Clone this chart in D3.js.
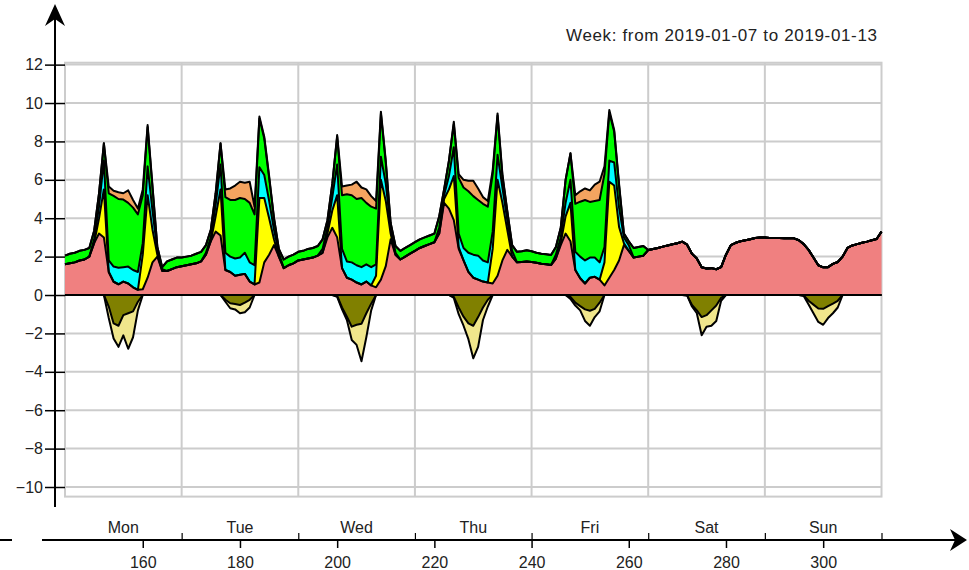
<!DOCTYPE html>
<html>
<head>
<meta charset="utf-8">
<title>Week 2019-01-07 to 2019-01-13</title>
<script src="https://cdn.jsdelivr.net/npm/d3@7"></script>
<style>
  body { margin: 0; background: #fff; }
  svg text { font-family: "Liberation Sans", Arial, sans-serif; font-size: 16px; fill: #222; }
</style>
</head>
<body>
<script>
// Hours of the year shown (one value per hour)
var firstHour = 144;
var lastHour = 312;

var title = "Week: from 2019-01-07 to 2019-01-13";
var dayNames = ["Mon", "Tue", "Wed", "Thu", "Fri", "Sat", "Sun"];
var dayMiddles = [156, 180, 204, 228, 252, 276, 300];
var dayBreaks = [168, 192, 216, 240, 264, 288, 312];
var xTicks = [160, 180, 200, 220, 240, 260, 280, 300];
var yTicks = [-10, -8, -6, -4, -2, 0, 2, 4, 6, 8, 10, 12];

// Stacked upwards, one row per day (24 hours), last value is hour 312
var pink = [
  1.6, 1.65, 1.7, 1.8, 1.85, 2.0, 2.7, 3.2, 3.0, 1.2, 0.69, 0.56, 0.7, 0.6, 0.4, 0.27, 0.3, 0.9, 1.7, 2.0, 1.25, 1.25, 1.35, 1.45,
  1.5, 1.55, 1.6, 1.65, 1.75, 2.1, 2.8, 3.3, 3.1, 1.3, 1.2, 1.0, 1.05, 1.1, 0.7, 0.55, 0.65, 1.7, 2.1, 2.6, 2.0, 1.4, 1.55, 1.65,
  1.8, 1.85, 1.9, 1.95, 2.05, 2.2, 3.0, 3.5, 3.0, 1.4, 0.9, 0.8, 0.65, 0.55, 0.7, 0.5, 0.4, 0.8, 1.5, 2.9, 2.1, 1.85, 2.0, 2.15,
  2.3, 2.45, 2.55, 2.65, 2.75, 3.2, 4.8, 4.5, 3.9, 2.4, 1.8, 1.2, 0.9, 0.8, 0.7, 0.65, 0.6, 1.0, 1.8, 2.35, 2.0, 1.7, 1.72, 1.74,
  1.72, 1.68, 1.63, 1.6, 1.56, 1.9, 2.6, 3.2, 2.8, 1.3, 0.87, 0.6, 0.9, 0.95, 0.8, 0.5, 0.9, 1.3, 1.8, 2.6, 2.3, 1.95, 2.0, 2.05,
  2.34, 2.4, 2.45, 2.52, 2.58, 2.64, 2.7, 2.78, 2.62, 2.15, 1.9, 1.45, 1.38, 1.4, 1.34, 1.45, 2.1, 2.6, 2.72, 2.8, 2.85, 2.9, 2.97, 3.0,
  3.0, 2.97, 2.97, 2.97, 2.96, 2.96, 2.95, 2.85, 2.65, 2.35, 1.95, 1.55, 1.44, 1.45, 1.62, 1.72, 2.0, 2.45, 2.58, 2.65, 2.72, 2.78, 2.85, 2.92,
  3.3
];
var yellow = [
  0, 0, 0, 0, 0, 0, 0, 0.8, 2.5, 0, 0, 0, 0, 0, 0, 0, 1.8, 4.3, 1.7, 0.1, 0, 0, 0, 0,
  0, 0, 0, 0, 0, 0, 0, 0.8, 2.4, 0, 0, 0, 0, 0, 0, 0, 4.4, 3.35, 1.9, 0.3, 0, 0, 0, 0,
  0, 0, 0, 0, 0, 0, 0.2, 0.9, 2.2, 0, 0, 0, 0, 0, 0, 0, 0.6, 5.2, 3.4, 0.3, 0, 0, 0, 0,
  0, 0, 0, 0, 0, 0, 0.2, 1.0, 2.3, 0.1, 0, 0, 0, 0, 0, 0, 1.8, 5.0, 3.0, 1.05, 0, 0, 0, 0,
  0, 0, 0, 0, 0, 0, 0.1, 0.9, 2.0, 0, 0, 0, 0, 0, 0, 1.2, 5.0, 4.4, 1.75, 0.1, 0, 0, 0, 0,
  0, 0, 0, 0, 0, 0, 0, 0, 0, 0, 0, 0, 0, 0, 0, 0, 0, 0, 0, 0, 0, 0, 0, 0,
  0, 0, 0, 0, 0, 0, 0, 0, 0, 0, 0, 0, 0, 0, 0, 0, 0, 0, 0, 0, 0, 0, 0, 0,
  0
];
var cyan = [
  0, 0, 0, 0, 0, 0, 0.2, 0.6, 1.5, 0.6, 0.79, 0.86, 0.75, 0.88, 0.9, 0.93, 0.6, 1.5, 1.0, 0.2, 0.1, 0, 0, 0,
  0, 0, 0, 0, 0, 0.1, 0.2, 0.6, 1.3, 0.9, 0.8, 0.9, 0.9, 1.1, 1.0, 1.0, 1.6, 1.2, 0.9, 0.5, 0.2, 0, 0, 0,
  0, 0, 0, 0, 0, 0.2, 0.3, 0.7, 1.6, 1.0, 0.85, 0.9, 0.9, 0.9, 0.9, 0.95, 0.6, 1.2, 0.9, 0.3, 0.1, 0, 0, 0,
  0, 0, 0, 0, 0, 0.3, 0.2, 0.7, 1.5, 0.7, 0.65, 1.0, 1.2, 1.25, 1.1, 1.05, 0.9, 1.3, 0.8, 0.5, 0.3, 0, 0, 0,
  0, 0, 0, 0, 0, 0.2, 0.3, 0.7, 1.2, 0.95, 1.13, 1.2, 1.05, 1.0, 0.9, 0.8, 1.1, 1.2, 1.0, 0.3, 0.3, 0, 0, 0,
  0, 0, 0, 0, 0, 0, 0, 0, 0, 0, 0, 0, 0, 0, 0, 0, 0, 0, 0, 0, 0, 0, 0, 0,
  0, 0, 0, 0, 0, 0, 0, 0, 0, 0, 0, 0, 0, 0, 0, 0, 0, 0, 0, 0, 0, 0, 0, 0,
  0
];
var green = [
  0.45, 0.5, 0.5, 0.5, 0.5, 0.45, 0.45, 0.7, 0.9, 3.5, 3.68, 3.58, 3.52, 3.32, 3.25, 3.0, 2.5, 2.05, 1.2, 0.2, 0.1, 0.5, 0.5, 0.5,
  0.45, 0.45, 0.45, 0.5, 0.5, 0.4, 0.4, 0.6, 1.1, 2.9, 2.95, 3.05, 3.1, 2.8, 3.1, 2.65, 2.55, 1.9, 1.2, 0.6, 0.2, 0.45, 0.45, 0.45,
  0.45, 0.45, 0.5, 0.5, 0.5, 0.5, 0.4, 0.7, 1.45, 2.8, 3.5, 3.5, 3.45, 3.6, 3.2, 3.15, 2.9, 2.25, 1.1, 0.25, 0.35, 0.45, 0.45, 0.45,
  0.45, 0.45, 0.45, 0.45, 0.45, 0.6, 0.3, 0.8, 1.2, 2.9, 3.15, 3.2, 3.05, 2.9, 2.95, 2.9, 3.0, 2.05, 0.6, 0.45, 0.3, 0.55, 0.56, 0.59,
  0.56, 0.52, 0.52, 0.52, 0.52, 0.4, 0.5, 1.2, 1.38, 2.5, 2.86, 3.15, 2.9, 2.95, 3.25, 3.8, 2.5, 1.6, 1.15, 0.2, 0.2, 0.5, 0.5, 0.5,
  0, 0, 0, 0, 0, 0, 0, 0, 0, 0, 0, 0, 0, 0, 0, 0, 0, 0, 0, 0, 0, 0, 0, 0,
  0, 0, 0, 0, 0, 0, 0, 0, 0, 0, 0, 0, 0, 0, 0, 0, 0, 0, 0, 0, 0, 0, 0, 0,
  0
];
var orange = [
  0, 0, 0, 0, 0, 0, 0, 0, 0, 0.35, 0.27, 0.35, 0.33, 0.65, 0.4, 0.3, 0.3, 0.1, 0.1, 0, 0, 0, 0, 0,
  0, 0, 0, 0, 0, 0, 0, 0, 0, 0.4, 0.6, 0.75, 0.85, 0.85, 1.1, 0.4, 0.1, 0.1, 0.1, 0, 0, 0, 0, 0,
  0, 0, 0, 0, 0, 0, 0, 0, 0.08, 0.45, 0.45, 0.55, 0.9, 0.55, 0.7, 0.55, 0.4, 0.1, 0.1, 0, 0, 0, 0, 0,
  0, 0, 0, 0, 0, 0, 0, 0, 0.13, 0.2, 0.4, 0.55, 0.8, 0.6, 0.35, 0.3, 0.2, 0.11, 0.1, 0.05, 0, 0, 0, 0,
  0, 0, 0, 0, 0, 0, 0, 0, 0, 0.45, 0.54, 0.6, 0.6, 0.85, 0.95, 0.4, 0.14, 0.1, 0.1, 0, 0, 0, 0, 0,
  0, 0, 0, 0, 0, 0, 0, 0, 0, 0, 0, 0, 0, 0, 0, 0, 0, 0, 0, 0, 0, 0, 0, 0,
  0, 0, 0, 0, 0, 0, 0, 0, 0, 0, 0, 0, 0, 0, 0, 0, 0, 0, 0, 0, 0, 0, 0, 0,
  0
];

// Stacked downwards
var olive = [
  0, 0, 0, 0, 0, 0, 0, 0, 0, -0.6, -1.48, -1.6, -1.05, -0.95, -0.85, -0.35, 0, 0, 0, 0, 0, 0, 0, 0,
  0, 0, 0, 0, 0, 0, 0, 0, 0, -0.25, -0.43, -0.47, -0.52, -0.4, -0.25, 0, 0, 0, 0, 0, 0, 0, 0, 0,
  0, 0, 0, 0, 0, 0, 0, 0, -0.05, -0.65, -1.13, -1.65, -1.55, -1.5, -0.95, -0.45, 0, 0, 0, 0, 0, 0, 0, 0,
  0, 0, 0, 0, 0, 0, 0, 0, -0.1, -0.65, -1.13, -1.48, -1.6, -1.15, -0.65, -0.25, 0, 0, 0, 0, 0, 0, 0, 0,
  0, 0, 0, 0, 0, 0, 0, 0, -0.1, -0.4, -0.58, -0.75, -0.82, -0.72, -0.4, 0, 0, 0, 0, 0, 0, 0, 0, 0,
  0, 0, 0, 0, 0, 0, 0, 0, -0.02, -0.52, -0.8, -1.15, -1.05, -0.8, -0.55, -0.15, 0, 0, 0, 0, 0, 0, 0, 0,
  0, 0, 0, 0, 0, 0, 0, 0, -0.02, -0.3, -0.5, -0.7, -0.72, -0.58, -0.45, -0.3, 0, 0, 0, 0, 0, 0, 0, 0,
  0
];
var khaki = [
  0, 0, 0, 0, 0, 0, 0, 0, 0, -0.6, -0.78, -1.1, -1.05, -1.85, -1.35, -0.45, 0, 0, 0, 0, 0, 0, 0, 0,
  0, 0, 0, 0, 0, 0, 0, 0, 0, -0.1, -0.26, -0.28, -0.43, -0.5, -0.4, 0, 0, 0, 0, 0, 0, 0, 0, 0,
  0, 0, 0, 0, 0, 0, 0, 0, -0.05, -0.1, -0.17, -0.69, -1.05, -1.95, -1.25, -0.35, 0, 0, 0, 0, 0, 0, 0, 0,
  0, 0, 0, 0, 0, 0, 0, 0, -0.05, -0.35, -0.47, -0.82, -1.7, -1.55, -0.65, -0.35, 0, 0, 0, 0, 0, 0, 0, 0,
  0, 0, 0, 0, 0, 0, 0, 0, -0.1, -0.15, -0.22, -0.6, -0.78, -0.43, -0.45, 0, 0, 0, 0, 0, 0, 0, 0, 0,
  0, 0, 0, 0, 0, 0, 0, 0, 0, -0.08, -0.15, -0.95, -0.6, -0.8, -0.8, -0.15, 0, 0, 0, 0, 0, 0, 0, 0,
  0, 0, 0, 0, 0, 0, 0, 0, -0.03, -0.2, -0.45, -0.7, -0.83, -0.62, -0.5, -0.35, 0, 0, 0, 0, 0, 0, 0, 0,
  0
];

var upKeys = ["pink", "yellow", "cyan", "green", "orange"];
var downKeys = ["olive", "khaki"];
var colors = {
  pink: "#f08080", yellow: "#ffff00", cyan: "#00ffff", green: "#00ff00",
  orange: "#f4a460", olive: "#808000", khaki: "#f0e68c"
};

// Builds one row per hour for d3.stack
var series = {pink: pink, yellow: yellow, cyan: cyan, green: green, orange: orange, olive: olive, khaki: khaki};
var hours = d3.range(firstHour, lastHour + 1);
var table = hours.map(function(h, i) {
  var row = {hour: h};
  for (var key in series) { row[key] = series[key][i]; }
  return row;
});

var w = 969;
var h = 570;
var svg = d3.select("body").append("svg").attr("width", w).attr("height", h);

var x = d3.scaleLinear().domain([firstHour, lastHour]).range([65, 881.5]);
var y = d3.scaleLinear().domain([-10.5, 12.1]).range([496.6, 62.7]);

// Grid and plot border
var grid = svg.append("g").attr("stroke", "#cccccc").attr("stroke-width", 2);
grid.selectAll("line.h").data(yTicks).enter().append("line").attr("class", "h")
    .attr("x1", x(firstHour)).attr("x2", x(lastHour))
    .attr("y1", function(d) { return y(d); }).attr("y2", function(d) { return y(d); });
grid.selectAll("line.v").data(dayBreaks.slice(0, -1)).enter().append("line").attr("class", "v")
    .attr("x1", function(d) { return x(d); }).attr("x2", function(d) { return x(d); })
    .attr("y1", y(12.1)).attr("y2", y(-10.5));
grid.append("rect")
    .attr("x", x(firstHour)).attr("y", y(12.1))
    .attr("width", x(lastHour) - x(firstHour)).attr("height", y(-10.5) - y(12.1))
    .attr("fill", "none");

// Stacks
var upLayers = d3.stack().keys(upKeys)(table);
var downLayers = d3.stack().keys(downKeys)(table);
var layers = upLayers.concat(downLayers);

var area = d3.area()
    .x(function(d) { return x(d.data.hour); })
    .y0(function(d) { return y(d[0]); })
    .y1(function(d) { return y(d[1]); });
var edge = d3.line()
    .x(function(d) { return x(d.data.hour); })
    .y(function(d) { return y(d[1]); });

svg.append("g").selectAll("path").data(layers).enter().append("path")
   .attr("d", area)
   .attr("fill", function(d) { return colors[d.key]; });

svg.append("g").selectAll("path").data(layers).enter().append("path")
   .attr("d", edge)
   .attr("fill", "none").attr("stroke", "#000").attr("stroke-width", 2)
   .attr("stroke-linejoin", "round");

// Zero line
svg.append("line")
   .attr("x1", x(firstHour)).attr("x2", x(lastHour)).attr("y1", y(0)).attr("y2", y(0))
   .attr("stroke", "#000").attr("stroke-width", 2);

// Y axis with arrow
var yAxis = d3.axisLeft(y).tickValues(yTicks).tickSize(10).tickPadding(2);
var gy = svg.append("g").attr("transform", "translate(55,0)").call(yAxis);
gy.select(".domain").remove();
gy.selectAll(".tick line").attr("x1", 10).attr("stroke", "#000").attr("stroke-width", 1.5);
svg.append("line").attr("x1", 55).attr("x2", 55).attr("y1", 507).attr("y2", 14)
   .attr("stroke", "#000").attr("stroke-width", 2);
svg.append("path").attr("d", "M55,4 L65,26 L55,19 L45,26 Z").attr("fill", "#000");

// X axis with arrow
var xAxis = d3.axisBottom(x).tickValues(xTicks).tickSize(8).tickPadding(9);
var gx = svg.append("g").attr("transform", "translate(0,540)").call(xAxis);
gx.select(".domain").remove();
gx.selectAll(".tick line").attr("stroke", "#000").attr("stroke-width", 1.5);

var dayAxis = d3.axisTop(x).tickValues(dayBreaks).tickSize(7).tickFormat("");
var gd = svg.append("g").attr("transform", "translate(0,540)").call(dayAxis);
gd.select(".domain").remove();
gd.selectAll(".tick line").attr("stroke", "#000").attr("stroke-width", 1.2);

svg.append("g").selectAll("text").data(dayNames).enter().append("text")
   .attr("x", function(d, i) { return x(dayMiddles[i]); })
   .attr("y", 533).attr("text-anchor", "middle")
   .text(function(d) { return d; });

svg.append("line").attr("x1", 42).attr("x2", 958).attr("y1", 540).attr("y2", 540)
   .attr("stroke", "#000").attr("stroke-width", 2);
svg.append("path").attr("d", "M967,540 L950,529 L955,540 L950,551 Z").attr("fill", "#000");
svg.append("line").attr("x1", 0).attr("x2", 12).attr("y1", 540).attr("y2", 540)
   .attr("stroke", "#000").attr("stroke-width", 2);

// Title, stretched to the width it takes in the original
svg.append("text").attr("x", 566).attr("y", 41)
   .attr("textLength", 311).attr("lengthAdjust", "spacing")
   .style("font-size", "17px")
   .text(title);
</script>
</body>
</html>
